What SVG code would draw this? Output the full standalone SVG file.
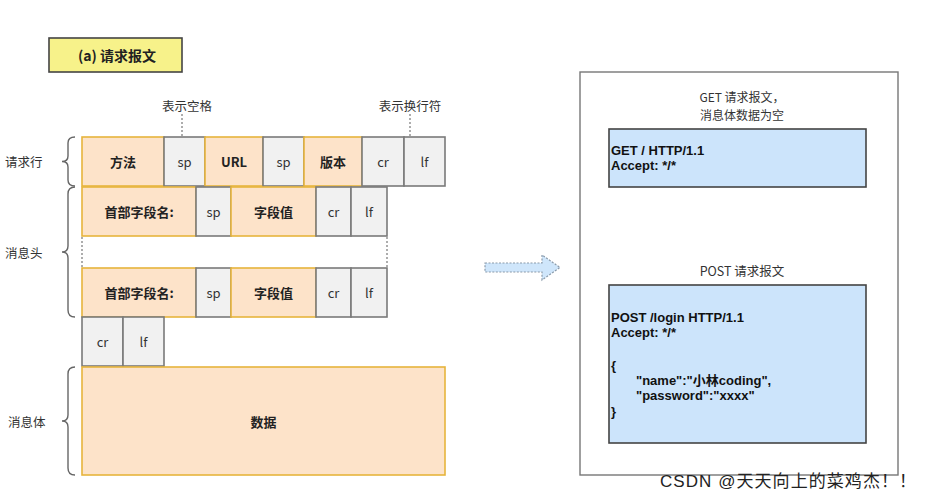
<svg xmlns="http://www.w3.org/2000/svg" width="927" height="499" viewBox="0 0 927 499">
<style>
text{font-family:"Noto Sans CJK SC","Liberation Sans",sans-serif;fill:#222;}
.o{fill:#fde3c9;stroke:#e6b43c;stroke-width:1.6;}
.g{fill:#f1f1f1;stroke:#7a7a7a;stroke-width:1.6;}
.b{font-size:13px;font-weight:bold;text-anchor:middle;dominant-baseline:central;}
.n{font-size:13px;text-anchor:middle;dominant-baseline:central;fill:#333;}
.lbl{font-size:12.5px;fill:#333;}
.brace{fill:none;stroke:#666;stroke-width:1.4;}
.dot{stroke:#777;stroke-width:1.2;stroke-dasharray:2 2;fill:none;}
.code{font-family:"Liberation Sans","Noto Sans CJK SC",sans-serif;font-size:13px;font-weight:700;fill:#111;}
.blue{fill:#cce4fb;stroke:#444;stroke-width:1.6;}
.cap{font-size:12.5px;text-anchor:middle;dominant-baseline:central;fill:#333;}
</style>

<g id="title">
<rect x="49" y="38" width="133" height="34" fill="#f7f28a" stroke="#444" stroke-width="1.6"/>
<text x="117" y="55" class="b" style="font-size:14px">(a) 请求报文</text>
</g>

<g id="annotations">
<text x="187" y="105" class="cap">表示空格</text>
<text x="410" y="105" class="cap">表示换行符</text>
</g>

<g id="request-line">
<rect class="o" x="82" y="137" width="82" height="49"/><text class="b" x="123" y="161.5">方法</text>
<rect class="g" x="164" y="137" width="41" height="49"/><text class="n" x="184.5" y="161.5">sp</text>
<rect class="o" x="205" y="137" width="58" height="49"/><text class="b" x="234" y="161.5">URL</text>
<rect class="g" x="263" y="137" width="41" height="49"/><text class="n" x="283.5" y="161.5">sp</text>
<rect class="o" x="304" y="137" width="58" height="49"/><text class="b" x="333" y="161.5">版本</text>
<rect class="g" x="362" y="137" width="42" height="49"/><text class="n" x="383" y="161.5">cr</text>
<rect class="g" x="404" y="137" width="41" height="49"/><text class="n" x="424.5" y="161.5">lf</text>
</g>

<g id="header-1">
<rect class="o" x="82" y="187" width="114" height="49"/><text class="b" x="139" y="211.5">首部字段名:</text>
<rect class="g" x="196" y="187" width="35" height="49"/><text class="n" x="213.5" y="211.5">sp</text>
<rect class="o" x="231" y="187" width="85" height="49"/><text class="b" x="273.5" y="211.5">字段值</text>
<rect class="g" x="316" y="187" width="35" height="49"/><text class="n" x="333.5" y="211.5">cr</text>
<rect class="g" x="351" y="187" width="36" height="49"/><text class="n" x="369" y="211.5">lf</text>
</g>

<g id="header-2">
<rect class="o" x="82" y="268" width="114" height="49"/><text class="b" x="139" y="292.5">首部字段名:</text>
<rect class="g" x="196" y="268" width="35" height="49"/><text class="n" x="213.5" y="292.5">sp</text>
<rect class="o" x="231" y="268" width="85" height="49"/><text class="b" x="273.5" y="292.5">字段值</text>
<rect class="g" x="316" y="268" width="35" height="49"/><text class="n" x="333.5" y="292.5">cr</text>
<rect class="g" x="351" y="268" width="36" height="49"/><text class="n" x="369" y="292.5">lf</text>
</g>

<g id="blank-line">
<rect class="g" x="82" y="317" width="41" height="49"/><text class="n" x="102.5" y="341.5">cr</text>
<rect class="g" x="123" y="317" width="41" height="49"/><text class="n" x="143.5" y="341.5">lf</text>
</g>

<g id="body">
<rect class="o" x="82" y="367" width="363" height="108"/><text class="b" x="263.5" y="421">数据</text>
</g>

<g id="side-labels">
<text class="lbl" x="5" y="161.5" dominant-baseline="central">请求行</text>
<path class="brace" d="M75 137 Q68 137 68 143 L68 156 Q68 161.5 62 161.5 Q68 161.5 68 167 L68 180 Q68 186 75 186"/>
<text class="lbl" x="5" y="252" dominant-baseline="central">消息头</text>
<path class="brace" d="M75 187 Q68 187 68 194 L68 246 Q68 252 62 252 Q68 252 68 258 L68 310 Q68 317 75 317"/>
<text class="lbl" x="8" y="421" dominant-baseline="central">消息体</text>
<path class="brace" d="M75 367 Q68 367 68 374 L68 415 Q68 421 62 421 Q68 421 68 427 L68 468 Q68 475 75 475"/>
</g>

<g id="get-panel">
<rect x="580" y="72" width="318" height="403" fill="#fff" stroke="#777" stroke-width="1.4"/>
<text x="742" y="96" class="cap" style="font-size:12px">GET 请求报文，</text>
<text x="742" y="114" class="cap" style="font-size:12px">消息体数据为空</text>
<rect class="blue" x="609" y="129" width="257" height="58"/>
<text class="code" x="611" y="155">GET / HTTP/1.1</text>
<text class="code" x="611" y="170">Accept: */*</text>
</g>

<g id="post-panel">
<text x="742" y="270" class="cap">POST 请求报文</text>
<rect class="blue" x="609" y="285" width="257" height="158"/>
<text class="code" x="611" y="322">POST /login HTTP/1.1</text>
<text class="code" x="611" y="337">Accept: */*</text>
<text class="code" x="611" y="370">{</text>
<text class="code" x="636" y="385">"name":"小林coding",</text>
<text class="code" x="636" y="400">"password":"xxxx"</text>
<text class="code" x="611" y="416">}</text>
</g>

<g id="connectors">
<line class="dot" x1="182" y1="114" x2="182" y2="137"/>
<line class="dot" x1="410" y1="114" x2="410" y2="137"/>
<line class="dot" x1="82" y1="237" x2="82" y2="268"/>
<line class="dot" x1="387" y1="237" x2="387" y2="268"/>
<path d="M485 263 L542 263 L542 255 L560 267.5 L542 280 L542 272 L485 272 Z" fill="#cfe6fb" stroke="#8a9aaa" stroke-width="1.2" stroke-dasharray="2 1.5"/>
</g>

<text x="660" y="487" font-size="17" fill="#9a9a9a" textLength="256" lengthAdjust="spacing" style="font-family:'Liberation Sans','Noto Sans CJK SC',sans-serif">CSDN @天天向上的菜鸡杰！！</text>
</svg>
